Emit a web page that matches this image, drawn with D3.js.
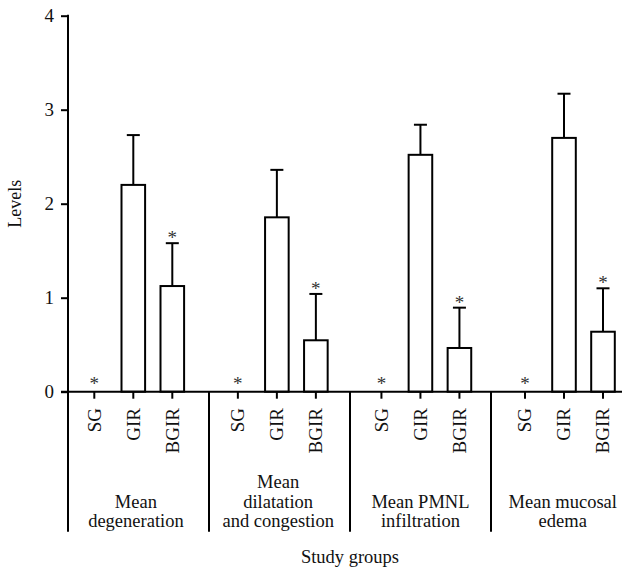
<!DOCTYPE html>
<html><head><meta charset="utf-8">
<script src="https://cdn.jsdelivr.net/npm/d3@7"></script>
<style>body{margin:0;background:#fff}svg{display:block}text{font-family:"Liberation Serif","Times New Roman",serif;fill:#111}</style>
</head><body>
<script>
const groups = [["Mean","degeneration"],["Mean","dilatation","and congestion"],["Mean PMNL","infiltration"],["Mean mucosal","edema"]];
const studyGroups = ["SG","GIR","BGIR"];
const sgMeans   = [0, 0, 0, 0];
const girMeans  = [2.20, 1.855, 2.52, 2.70];
const girSD     = [0.53, 0.505, 0.32, 0.47];
const bgirMeans = [1.124, 0.547, 0.465, 0.638];
const bgirSD    = [0.456, 0.493, 0.429, 0.462];
const sgSig     = [true, true, true, true];
const bgirSig   = [true, true, true, true];
const yTicks = [0, 1, 2, 3, 4];
const yLabel = "Levels";
const xLabel = "Study groups";

const W = 622, H = 567;
const svg = d3.select("body").append("svg").attr("width", W).attr("height", H);
const y = d3.scaleLinear().domain([0, 4]).range([391.7, 15.7]);
const xGroup = d3.scaleLinear().domain([0, 4]).range([68, 632]);
const xFirst = d3.scaleLinear().domain([0, 3]).range([94.3, 525]);
const slot = 39, barW = 23.6;
const xCat = (g, i) => xFirst(g) + slot * i;

const rows = [];
groups.forEach((gname, g) => {
  rows.push({g, i: 0, mean: sgMeans[g], sd: 0, sig: sgSig[g]});
  rows.push({g, i: 1, mean: girMeans[g], sd: girSD[g], sig: false});
  rows.push({g, i: 2, mean: bgirMeans[g], sd: bgirSD[g], sig: bgirSig[g]});
});

const axBottom = 531.7;
const bars = rows.filter(d => d.mean > 0);
svg.selectAll("line.err").data(bars).join("line").attr("class","err")
  .attr("x1", d => xCat(d.g, d.i)).attr("x2", d => xCat(d.g, d.i))
  .attr("y1", d => y(d.mean)).attr("y2", d => y(d.mean + d.sd))
  .attr("stroke", "#000").attr("stroke-width", 2);
svg.selectAll("line.cap").data(bars).join("line").attr("class","cap")
  .attr("x1", d => xCat(d.g, d.i) - 6.5).attr("x2", d => xCat(d.g, d.i) + 6.5)
  .attr("y1", d => y(d.mean + d.sd)).attr("y2", d => y(d.mean + d.sd))
  .attr("stroke", "#000").attr("stroke-width", 2);
svg.selectAll("rect.bar").data(bars).join("rect").attr("class","bar")
  .attr("x", d => xCat(d.g, d.i) - barW / 2).attr("width", barW)
  .attr("y", d => y(d.mean)).attr("height", d => y(0) - y(d.mean))
  .attr("fill", "#fff").attr("stroke", "#000").attr("stroke-width", 2);

svg.selectAll("text.sig").data(rows.filter(d => d.sig)).join("text").attr("class","sig")
  .attr("x", d => xCat(d.g, d.i)).attr("text-anchor", "middle")
  .attr("y", d => d.mean > 0 ? y(d.mean + d.sd) + 1 : y(0) - 2)
  .attr("font-size", 19).style("fill", "#333").text("*");

const yAxis = svg.append("g").attr("transform", `translate(${xGroup(0)},0)`)
  .call(d3.axisLeft(y).tickValues(yTicks).tickFormat(d3.format("d")).tickSize(7).tickPadding(7));
yAxis.select(".domain").remove();
yAxis.selectAll(".tick line").attr("stroke-width", 2);
yAxis.selectAll(".tick text").attr("font-size", 19).attr("font-family", "Liberation Serif").style("fill", "#111");
svg.append("line").attr("x1", xGroup(0)).attr("x2", xGroup(0)).attr("y1", y(4) - 1).attr("y2", axBottom)
  .attr("stroke", "#000").attr("stroke-width", 2);

svg.append("line").attr("x1", xGroup(0) - 7).attr("x2", xGroup(4)).attr("y1", y(0)).attr("y2", y(0))
  .attr("stroke", "#000").attr("stroke-width", 2);
svg.selectAll("line.ctick").data(rows).join("line").attr("class","ctick")
  .attr("x1", d => xCat(d.g, d.i)).attr("x2", d => xCat(d.g, d.i))
  .attr("y1", y(0)).attr("y2", y(0) + 7).attr("stroke", "#000").attr("stroke-width", 2);
svg.selectAll("text.clab").data(rows).join("text").attr("class","clab")
  .attr("transform", d => `translate(${xCat(d.g, d.i)},408) rotate(-90)`)
  .attr("text-anchor", "end").attr("dy", "0.34em").attr("font-size", 19)
  .text(d => studyGroups[d.i]);
svg.selectAll("line.sep").data([1, 2, 3]).join("line").attr("class","sep")
  .attr("x1", d => xGroup(d)).attr("x2", d => xGroup(d)).attr("y1", y(0)).attr("y2", axBottom)
  .attr("stroke", "#000").attr("stroke-width", 2);
groups.forEach((lines, g) => {
  const cx = (xGroup(g + 0.5) + xCat(g, 1)) / 2;
  const t = svg.append("text").attr("text-anchor", "middle").attr("font-size", 18.5);
  const n = lines.length;
  lines.forEach((ln, k) => {
    t.append("tspan").attr("x", cx).attr("y", 527 - (n - 1 - k) * 19.5).text(ln);
  });
});
svg.append("text").attr("transform", `translate(21,${y(2)}) rotate(-90)`)
  .attr("text-anchor", "middle").attr("font-size", 18).text(yLabel);
svg.append("text").attr("x", (xGroup(0) + xGroup(4)) / 2).attr("y", 563)
  .attr("text-anchor", "middle").attr("font-size", 18.5).text(xLabel);
</script>
</body></html>
